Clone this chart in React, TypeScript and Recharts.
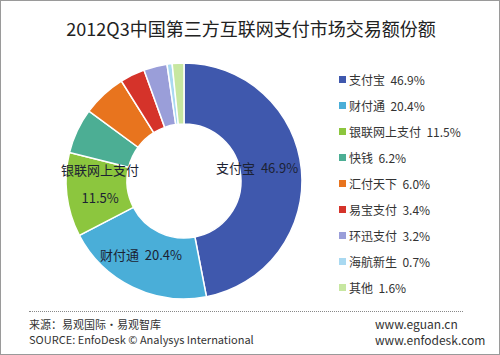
import React from 'react';
import { PieChart, Pie, Cell, Legend } from 'recharts';

const names = ['支付宝', '财付通', '银联网上支付', '快钱', '汇付天下', '易宝支付', '环迅支付', '海航新生', '其他'];
const shares = [46.9, 20.4, 11.5, 6.2, 6.0, 3.4, 3.2, 0.7, 1.6];
const colors = ['#3f58ad', '#4aaed8', '#8cc63e', '#4cae94', '#e8741e', '#d5332a', '#9a9ed9', '#a9d9f1', '#c7e7a1'];

const data = names.map((name, i) => ({ name, value: shares[i] }));

const FONT = '"Noto Sans CJK SC", "Noto Sans", sans-serif';
const RAD = Math.PI / 180;
const GAP = '\u00a0\u00a0';

// only the three largest slices carry a label inside the ring
const renderLabel = (props: any) => {
  const { cx, cy, midAngle, innerRadius, outerRadius, index } = props;
  if (index > 2) return null;
  const r = (innerRadius + outerRadius) / 2;
  const x = cx + r * Math.cos(-midAngle * RAD);
  const y = cy + r * Math.sin(-midAngle * RAD);
  if (index === 2) {
    return (
      <text x={x + 3} y={y} textAnchor="middle" fill="#1c2233" fontSize={13} fontFamily={FONT}>
        <tspan x={x + 3} dy={-16}>{names[index]}</tspan>
        <tspan x={x + 3} dy={28}>{shares[index].toFixed(1)}%</tspan>
      </text>
    );
  }
  return (
    <text x={x - (index === 0 ? 14 : 5)} y={y} textAnchor="middle" fill="#1c2233" fontSize={13} fontFamily={FONT}>
      {names[index] + GAP + shares[index].toFixed(1) + '%'}
    </text>
  );
};

const LegendList = () => (
  <div style={{ fontFamily: FONT, fontSize: 12, color: '#333' }}>
    {names.map((n, i) => (
      <div key={n} style={{ height: 26, display: 'flex', alignItems: 'center' }}>
        <span style={{ width: 7, height: 7, background: colors[i], display: 'inline-block', marginRight: 3 }} />
        <span>{n}&nbsp;&nbsp;{shares[i].toFixed(1)}%</span>
      </div>
    ))}
  </div>
);

export default function App() {
  return (
    <div style={{ position: 'absolute', left: 0, top: 0, width: 500, height: 355, background: '#fff', border: '1px solid #9a9a9a', boxSizing: 'border-box', overflow: 'hidden', fontFamily: FONT }}>
      <div style={{ position: 'absolute', left: 0, top: 14, width: 500, textAlign: 'center', fontSize: 18, color: '#222' }}>
        2012Q3中国第三方互联网支付市场交易额份额
      </div>
      <div style={{ position: 'absolute', left: 0, top: 0 }}>
        <PieChart width={500} height={310}>
          <Pie
            data={data}
            dataKey="value"
            nameKey="name"
            cx={178}
            cy={175}
            innerRadius={57}
            outerRadius={118}
            startAngle={90}
            endAngle={-270}
            stroke="#fff"
            strokeWidth={1.5}
            label={renderLabel}
            labelLine={false}
            isAnimationActive={false}
          >
            {data.map((d, i) => (
              <Cell key={d.name} fill={colors[i]} />
            ))}
          </Pie>
          <Legend content={<LegendList />} layout="vertical" wrapperStyle={{ left: 338, top: 65, width: 160 }} />
        </PieChart>
      </div>
      <div style={{ position: 'absolute', left: 28, top: 310, width: 434, borderTop: '1px dotted #888' }} />
      <div style={{ position: 'absolute', left: 28, top: 316, fontSize: 11, color: '#333', lineHeight: '15px' }}>
        <div>来源：易观国际·易观智库</div>
        <div>SOURCE: EnfoDesk © Analysys International</div>
      </div>
      <div style={{ position: 'absolute', left: 374, top: 315, fontSize: 12, color: '#333', lineHeight: '16px' }}>
        <div>www.eguan.cn</div>
        <div>www.enfodesk.com</div>
      </div>
    </div>
  );
}
